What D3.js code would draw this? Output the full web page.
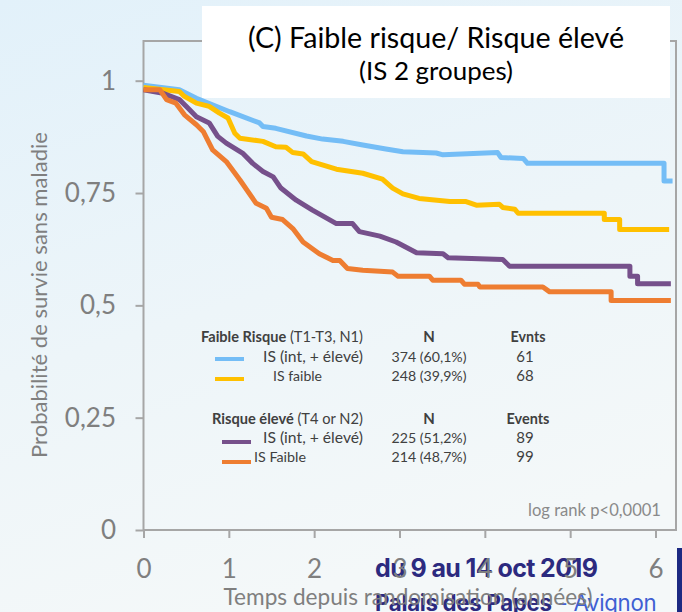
<!DOCTYPE html>
<html>
<head>
<meta charset="utf-8">
<script src="https://cdn.jsdelivr.net/npm/d3@7"></script>
<style>
  html, body { margin: 0; padding: 0; overflow: hidden; }
  svg { display: block; }
</style>
</head>
<body>
<svg id="chart" width="682" height="612"></svg>
<script>
// ---- Kaplan-Meier survival estimates: [years, probability] ----
const blueFR = [[0,0.99],[0.42,0.98],[0.62,0.961],[1.01,0.931],[1.36,0.906],[1.40,0.898],[1.55,0.894],[1.91,0.877],[2.10,0.870],[2.34,0.865],[2.57,0.857],[2.84,0.848],[3.04,0.842],[3.43,0.839],[3.51,0.835],[4.15,0.840],[4.19,0.829],[4.45,0.827],[4.50,0.816],[6.10,0.816],[6.10,0.777],[6.20,0.777]];
const yellowFR = [[0,0.985],[0.42,0.976],[0.48,0.965],[0.62,0.950],[0.77,0.943],[0.89,0.928],[0.99,0.917],[1.07,0.883],[1.13,0.872],[1.40,0.865],[1.55,0.853],[1.67,0.852],[1.75,0.840],[1.87,0.837],[1.97,0.820],[2.26,0.803],[2.57,0.794],[2.80,0.781],[2.92,0.761],[3.04,0.748],[3.23,0.738],[3.59,0.731],[3.78,0.731],[3.90,0.723],[4.17,0.725],[4.21,0.718],[4.35,0.714],[4.39,0.705],[5.40,0.705],[5.40,0.691],[5.58,0.691],[5.58,0.669],[6.16,0.669]];
const purpleRE = [[0,0.98],[0.23,0.972],[0.42,0.958],[0.52,0.939],[0.62,0.920],[0.77,0.906],[0.87,0.876],[0.97,0.861],[1.16,0.839],[1.28,0.816],[1.40,0.798],[1.52,0.786],[1.61,0.761],[1.79,0.734],[1.98,0.712],[2.26,0.682],[2.45,0.682],[2.53,0.664],[2.77,0.654],[2.96,0.641],[3.20,0.617],[3.51,0.615],[3.57,0.606],[4.21,0.602],[4.29,0.587],[5.70,0.587],[5.70,0.565],[5.79,0.565],[5.79,0.548],[6.18,0.548]];
const orangeRE = [[0,0.98],[0.19,0.980],[0.27,0.958],[0.38,0.950],[0.48,0.924],[0.62,0.902],[0.70,0.887],[0.81,0.846],[0.97,0.820],[1.13,0.779],[1.32,0.727],[1.44,0.716],[1.50,0.696],[1.63,0.691],[1.75,0.671],[1.87,0.641],[2.06,0.615],[2.22,0.600],[2.30,0.600],[2.39,0.582],[2.57,0.578],[2.92,0.574],[2.98,0.565],[3.35,0.565],[3.39,0.556],[3.72,0.556],[3.76,0.547],[3.92,0.547],[3.94,0.541],[4.68,0.541],[4.76,0.530],[5.48,0.530],[5.48,0.511],[6.18,0.511]];

// ---- Legend table ----
const groupNames = ["Faible Risque", "Risque élevé"];
const groupDetails = [" (T1-T3, N1)", " (T4 or N2)"];
const eventHeaders = ["Evnts", "Events"];
const seriesLabels = ["IS (int, + élevé)", "IS faible", "IS (int, + élevé)", "IS Faible"];
const seriesN = ["374 (60,1%)", "248 (39,9%)", "225 (51,2%)", "214 (48,7%)"];
const seriesEvents = ["61", "68", "89", "99"];

// ---- Axis ticks ----
const xTicks = [0, 1, 2, 3, 4, 5, 6];
const yTicks = [0, 0.25, 0.5, 0.75, 1];
const yTickLabels = ["0", "0,25", "0,5", "0,75", "1"];

// ---- Texts ----
const titleText = "(C) Faible risque/ Risque élevé";
const subtitleText = "(IS 2 groupes)";
const xTitle = "Temps depuis randomisation (années)";
const yTitle = "Probabilité de survie sans maladie";
const pValueText = "log rank p<0,0001";

const colors = ["#74bdf6", "#ffc000", "#76508b", "#ee7d31"];
const series = [blueFR, yellowFR, purpleRE, orangeRE];

const svg = d3.select("#chart");
const FONT = "Lato, 'Open Sans', sans-serif";
const GREY = "#7f7f7f";

// shrink/grow a text so it spans a given width
function fitWidth(sel, w) {
  const cur = sel.node().getComputedTextLength();
  const fs = parseFloat(sel.attr("font-size"));
  if (cur > 0) sel.attr("font-size", (fs * w / cur).toFixed(2));
  return sel;
}

// ---- Slide background ----
const defs = svg.append("defs");
const grad = defs.append("linearGradient").attr("id", "bg")
  .attr("x1", 0).attr("y1", 0).attr("x2", 0.35).attr("y2", 1);
grad.append("stop").attr("offset", "0%").attr("stop-color", "#e2f1fa");
grad.append("stop").attr("offset", "55%").attr("stop-color", "#edf5f9");
grad.append("stop").attr("offset", "100%").attr("stop-color", "#f4f8f9");
svg.append("rect").attr("width", 682).attr("height", 612).attr("fill", "url(#bg)");

// ---- Event banner at the foot of the slide ----
const navy = "#2c2a7f";
const b1 = svg.append("text")
  .attr("x", 375).attr("y", 577)
  .attr("font-family", "Inter, 'Open Sans', sans-serif")
  .attr("font-weight", 700).attr("font-size", 24)
  .attr("letter-spacing", -0.6)
  .attr("fill", navy)
  .text("du 9 au 14 oct 2019");
fitWidth(b1, 222);
const b2 = svg.append("text")
  .attr("x", 375).attr("y", 611)
  .attr("font-family", "Inter, 'Open Sans', sans-serif")
  .attr("font-size", 21).attr("letter-spacing", -0.3);
b2.append("tspan").attr("font-weight", 700).attr("fill", navy).text("Palais des Papes");
b2.append("tspan").attr("fill", "#3f5fd3").text(" - Avignon");
fitWidth(b2, 281);
svg.append("rect").attr("x", 677).attr("y", 548).attr("width", 5).attr("height", 64).attr("fill", "#1c2a82");

// ---- Scales ----
const x = d3.scaleLinear().domain([0, 6]).range([143.5, 655.5]);
const y = d3.scaleLinear().domain([0, 1]).range([530, 80.7]);

// ---- Plot frame ----
const frameL = 143.5, frameR = 676, frameT = 41, frameB = 530;
svg.append("rect")
  .attr("x", frameL).attr("y", frameT)
  .attr("width", frameR - frameL).attr("height", frameB - frameT)
  .attr("fill", "none").attr("stroke", "#a6a6a6").attr("stroke-width", 2);

// ---- Axes ----
const yAxis = d3.axisLeft(y).tickValues(yTicks)
  .tickFormat((d, i) => yTickLabels[i]).tickSize(8).tickPadding(19.5);
const gy = svg.append("g").attr("transform", `translate(${frameL},0)`).call(yAxis);
const xAxis = d3.axisBottom(x).tickValues(xTicks)
  .tickFormat(d3.format("d")).tickSize(8).tickPadding(22);
const gx = svg.append("g").attr("transform", `translate(0,${frameB})`).call(xAxis);
[gx, gy].forEach(g => {
  g.select(".domain").remove();
  g.selectAll(".tick line").attr("stroke", "#a6a6a6").attr("stroke-width", 2);
  g.selectAll(".tick text").attr("fill", GREY).attr("font-family", FONT).attr("font-size", 26);
});

// axis titles
const xt = svg.append("text")
  .attr("x", 408).attr("y", 605).attr("text-anchor", "middle")
  .attr("font-family", FONT).attr("font-size", 21).attr("fill", GREY)
  .text(xTitle);
fitWidth(xt, 369);
const yt = svg.append("text")
  .attr("transform", "translate(47,295) rotate(-90)")
  .attr("text-anchor", "middle")
  .attr("font-family", FONT).attr("font-size", 19).attr("fill", GREY)
  .text(yTitle);
fitWidth(yt, 326);

// ---- Survival curves ----
const line = d3.line().x(d => x(d[0])).y(d => y(d[1]));
svg.append("g").selectAll("path")
  .data(series)
  .join("path")
  .attr("d", line)
  .attr("fill", "none")
  .attr("stroke", (d, i) => colors[i])
  .attr("stroke-width", 5)
  .attr("stroke-linejoin", "round");

// ---- Title box ----
svg.append("rect").attr("x", 202).attr("y", 6).attr("width", 468).attr("height", 92).attr("fill", "#ffffff");
const tt = svg.append("text")
  .attr("x", 436).attr("y", 48).attr("text-anchor", "middle")
  .attr("font-family", FONT).attr("font-size", 27).attr("fill", "#000")
  .text(titleText);
fitWidth(tt, 376);
const st = svg.append("text")
  .attr("x", 436).attr("y", 80).attr("text-anchor", "middle")
  .attr("font-family", FONT).attr("font-size", 20).attr("fill", "#000")
  .text(subtitleText);
fitWidth(st, 154);

// ---- log rank ----
const pv = svg.append("text")
  .attr("x", 661).attr("y", 516).attr("text-anchor", "end")
  .attr("font-family", FONT).attr("font-size", 14).attr("fill", "#8a8a8a")
  .text(pValueText);
fitWidth(pv, 133);

// ---- Legend ----
const LEG = "#404040";
const legFs = 15;
const headerY = [342, 424];
const headerX = [201, 212];
const rowY = [362, 381, 443, 462];
const labelX = [263, 273, 263, 254];
const labelW = [100, 49, 100, 52];
const swatchX = [[215, 244], [215, 244], [222, 251], [222, 251]];
const swatchY = [359, 379, 442, 462];
const colN = 429, colE = 528;

const leg = svg.append("g").attr("font-family", FONT).attr("fill", LEG);
groupNames.forEach((g, i) => {
  const t = leg.append("text").attr("x", headerX[i]).attr("y", headerY[i]).attr("font-size", legFs);
  t.append("tspan").attr("font-weight", 700).text(g);
  t.append("tspan").text(groupDetails[i]);
  fitWidth(t, [162, 151][i]);
  leg.append("text").attr("x", colN).attr("y", headerY[i]).attr("text-anchor", "middle")
    .attr("font-size", legFs).attr("font-weight", 700).text("N");
  const e = leg.append("text").attr("x", colE).attr("y", headerY[i]).attr("text-anchor", "middle")
    .attr("font-size", legFs).attr("font-weight", 700).text(eventHeaders[i]);
  fitWidth(e, [35, 43][i]);
});
seriesLabels.forEach((s, i) => {
  leg.append("line")
    .attr("x1", swatchX[i][0]).attr("x2", swatchX[i][1])
    .attr("y1", swatchY[i]).attr("y2", swatchY[i])
    .attr("stroke", colors[i]).attr("stroke-width", 4);
  const l = leg.append("text").attr("x", labelX[i]).attr("y", rowY[i]).attr("font-size", legFs).text(s);
  fitWidth(l, labelW[i]);
  const n = leg.append("text").attr("x", colN).attr("y", rowY[i]).attr("text-anchor", "middle")
    .attr("font-size", legFs).text(seriesN[i]);
  fitWidth(n, 75);
  leg.append("text").attr("x", colE - 3).attr("y", rowY[i]).attr("text-anchor", "middle")
    .attr("font-size", legFs).text(seriesEvents[i]);
});
</script>
</body>
</html>
